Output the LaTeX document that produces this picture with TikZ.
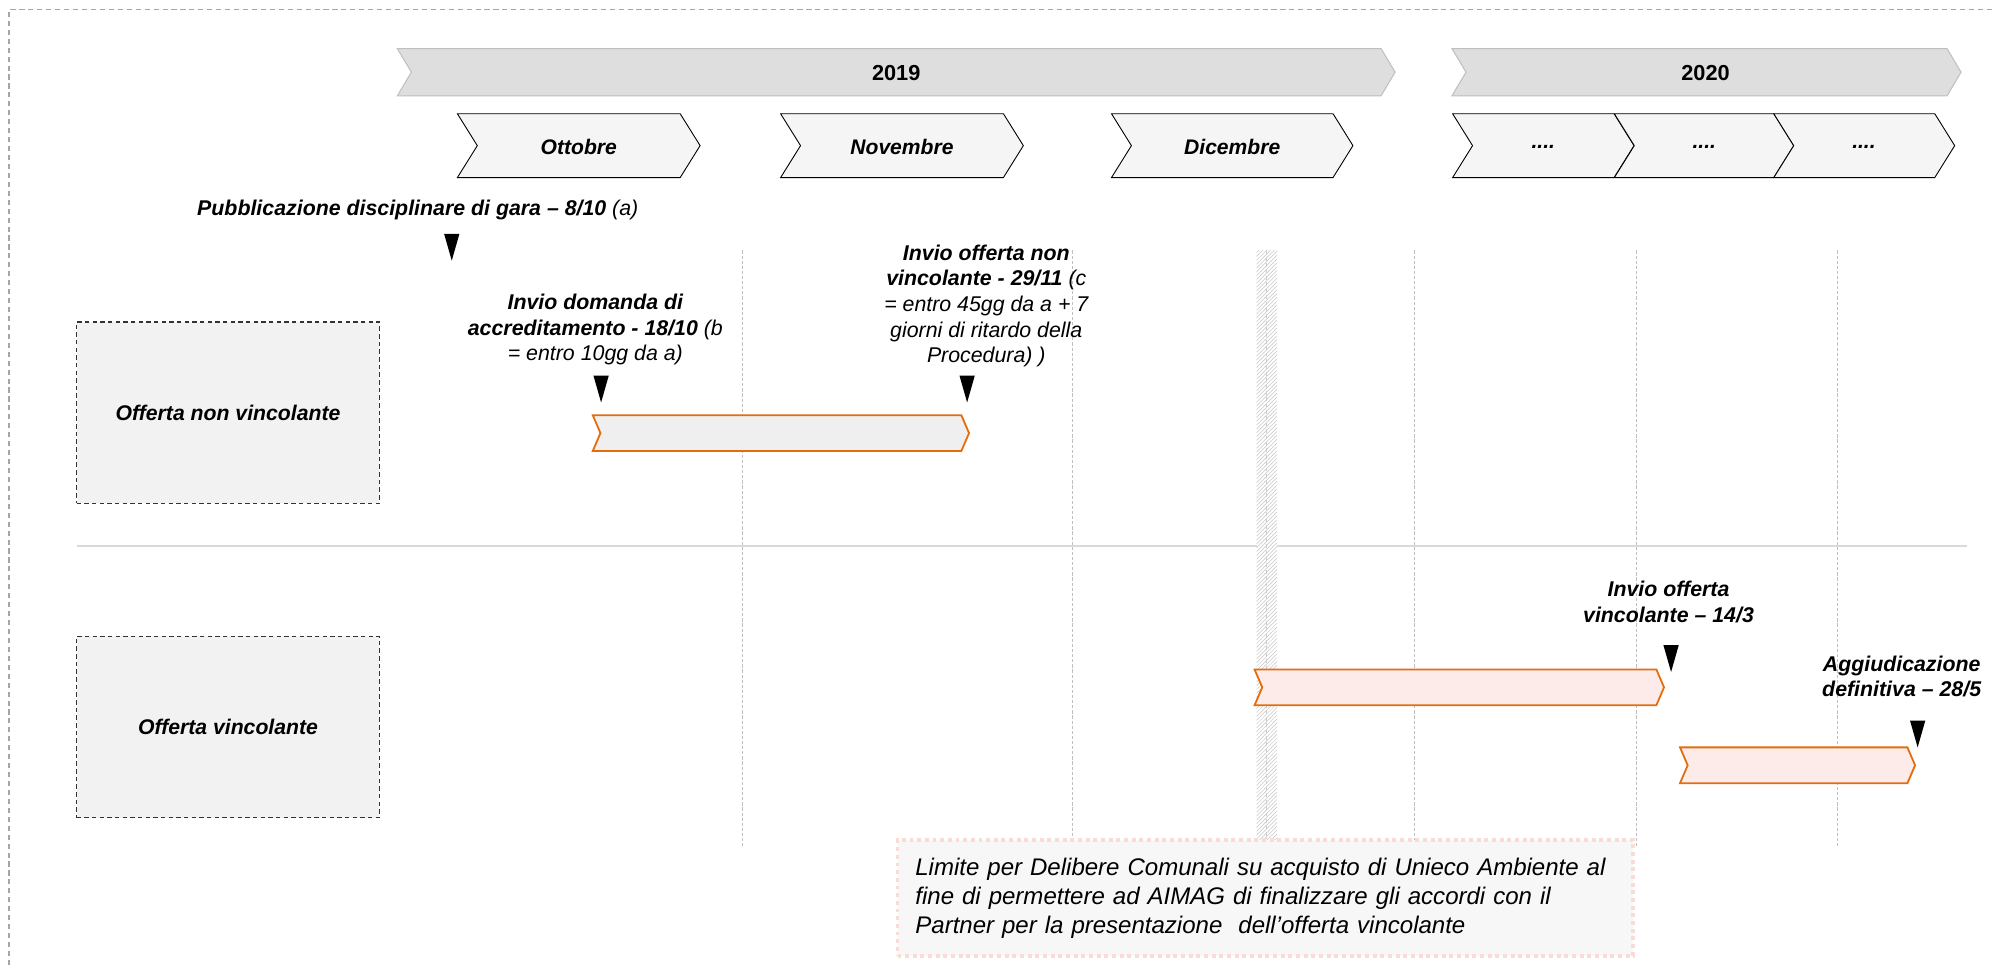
\documentclass[tikz,border=0pt]{standalone}
\usepackage{fontspec}
\setmainfont{Liberation Sans}
\usetikzlibrary{patterns}
\definecolor{orangeB}{HTML}{E46C0A}
\definecolor{yearfill}{HTML}{DEDEDE}
\definecolor{yearline}{HTML}{BFBFBF}
\definecolor{monthfill}{HTML}{F5F5F5}
\definecolor{boxfill}{HTML}{F2F2F2}
\definecolor{pinkfill}{HTML}{FCEBE8}
\definecolor{greyfill}{HTML}{EFEFEF}
\definecolor{notefill}{HTML}{F7F7F7}
\definecolor{noteline}{HTML}{FADCD7}
\definecolor{gridline}{HTML}{BFBFBF}
\definecolor{sepline}{HTML}{D9D9D9}
\definecolor{borderline}{HTML}{A6A6A6}
\newcommand{\mychev}[6]{\draw[#6] (#1,#3) -- ({#2-#5},#3) -- (#2,{(#3+#4)/2}) -- ({#2-#5},#4) -- (#1,#4) -- ({#1+#5},{(#3+#4)/2}) -- cycle;}
\newcommand{\mymark}[2]{\fill[black] ({#1-6},#2) -- ({#1+6},#2) -- (#1,{#2+21}) -- cycle;}
\begin{document}
\begin{tikzpicture}[x=1pt,y=-1pt,
  yearbar/.style={fill=yearfill,draw=yearline,line width=0.8pt},
  monthbar/.style={fill=monthfill,draw=black,line width=0.7pt},
  orangebar/.style={draw=orangeB,line width=1.4pt,line join=miter},
  yeartxt/.style={font=\fontsize{17}{20}\selectfont\bfseries,inner sep=0pt},
  monthtxt/.style={font=\fontsize{16.5}{20}\selectfont\bfseries\itshape,inner sep=0pt},
  lbl/.style={font=\fontsize{16.7}{20.1}\selectfont\bfseries\itshape,inner sep=0pt,align=center},
  lbox/.style={draw=black!80,dash pattern=on 3.5pt off 2.5pt,line width=0.9pt,fill=boxfill,
    minimum width=237pt,minimum height=142pt,inner sep=0pt,
    font=\fontsize{16.6}{20}\selectfont\bfseries\itshape},
  gridl/.style={draw=gridline,line width=0.6pt,dash pattern=on 2.5pt off 1.5pt},
  notebox/.style={fill=notefill,draw=noteline,line width=3pt,dash pattern=on 3pt off 3pt,
    minimum width=576pt,minimum height=90.4pt,inner xsep=14pt,inner ysep=0pt,
    text width=548pt,align=left,font=\fontsize{18.8}{22.7}\selectfont\itshape}
]
\useasboundingbox (0,0) rectangle (1560,755.3);
% outer border
\draw[borderline,line width=0.9pt,dash pattern=on 4pt off 3pt] (7,755.3) -- (7,7.5) -- (1560,7.5);
% year bars
\mychev{311}{1092}{38}{75}{11}{yearbar}
\mychev{1136.5}{1535}{38}{75}{11}{yearbar}
\node[yeartxt] (y2019) at (701.5,57) {2019};
\node[yeartxt] (y2020) at (1335,57) {2020};
% month chevrons
\mychev{358}{548}{89}{139}{15.6}{monthbar}
\mychev{611}{801}{89}{139}{15.6}{monthbar}
\mychev{870}{1059}{89}{139}{15.6}{monthbar}
\mychev{1137}{1279}{89}{139}{15.6}{monthbar}
\mychev{1263.6}{1404}{89}{139}{15.6}{monthbar}
\mychev{1388.4}{1530}{89}{139}{15.6}{monthbar}
\node[monthtxt] (ott) at (453,115) {Ottobre};
\node[monthtxt] (nov) at (706,115) {Novembre};
\node[monthtxt] (dic) at (964.5,115) {Dicembre};
\node[monthtxt] (m1) at (1208,115) {....};
\node[monthtxt] (m2) at (1334,115) {....};
\node[monthtxt] (m3) at (1459,115) {....};
% separator
\draw[sepline,line width=1.5pt] (60,427.4) -- (1540,427.4);
% grid lines
\draw[gridl] (581,196) -- (581,664);
\draw[gridl] (839,196) -- (839,664);
\draw[gridl] (1107,196) -- (1107,664);
\draw[gridl] (1281,196) -- (1281,664);
\draw[gridl] (1438,196) -- (1438,664);
% hatched bar
\fill[white] (983.5,196) rectangle (999.5,657);
\fill[pattern=north east lines,pattern color=black!22] (983.5,196) rectangle (999.5,657);
\draw[black!20,line width=0.8pt,dash pattern=on 3pt off 2pt] (991.5,196) -- (991.5,657);
% left boxes
\node[lbox] (nvbox) at (178.5,323) {Offerta non vincolante};
\node[lbox] (vbox) at (178.5,569) {Offerta vincolante};
% activity bars
\mychev{464}{758.5}{325}{353}{6}{orangebar,fill=greyfill}
\mychev{982}{1302.5}{524}{552}{6}{orangebar,fill=pinkfill}
\mychev{1315}{1499}{585}{613}{6}{orangebar,fill=pinkfill}
% milestone labels
\node[lbl] (pub) at (327,164) {Pubblicazione disciplinare di gara – 8/10 {\mdseries(a)}};
\node[lbl] (dom) at (466,258) {Invio domanda di\\accreditamento - 18/10 {\mdseries(b}\\{\mdseries= entro 10gg da a)}};
\node[lbl] (nvo) at (772,239.4) {Invio offerta non\\vincolante - 29/11 {\mdseries(c}\\{\mdseries= entro 45gg da a + 7}\\{\mdseries giorni di ritardo della}\\{\mdseries Procedura) )}};
\node[lbl] (vo) at (1306,471) {Invio offerta\\vincolante – 14/3};
\node[lbl] (agg) at (1488.5,529.5) {Aggiudicazione\\definitiva – 28/5};
% markers
\mymark{353.6}{183}
\mymark{470.5}{294}
\mymark{757}{294}
\mymark{1308}{505}
\mymark{1501}{564}
% note
\node[notebox] (note) at (990.5,702.8) {Limite per Delibere Comunali su acquisto di Unieco Ambiente al\\fine di permettere ad AIMAG di finalizzare gli accordi con il\\Partner per la presentazione\ \ dell’offerta vincolante};
\end{tikzpicture}
\end{document}
